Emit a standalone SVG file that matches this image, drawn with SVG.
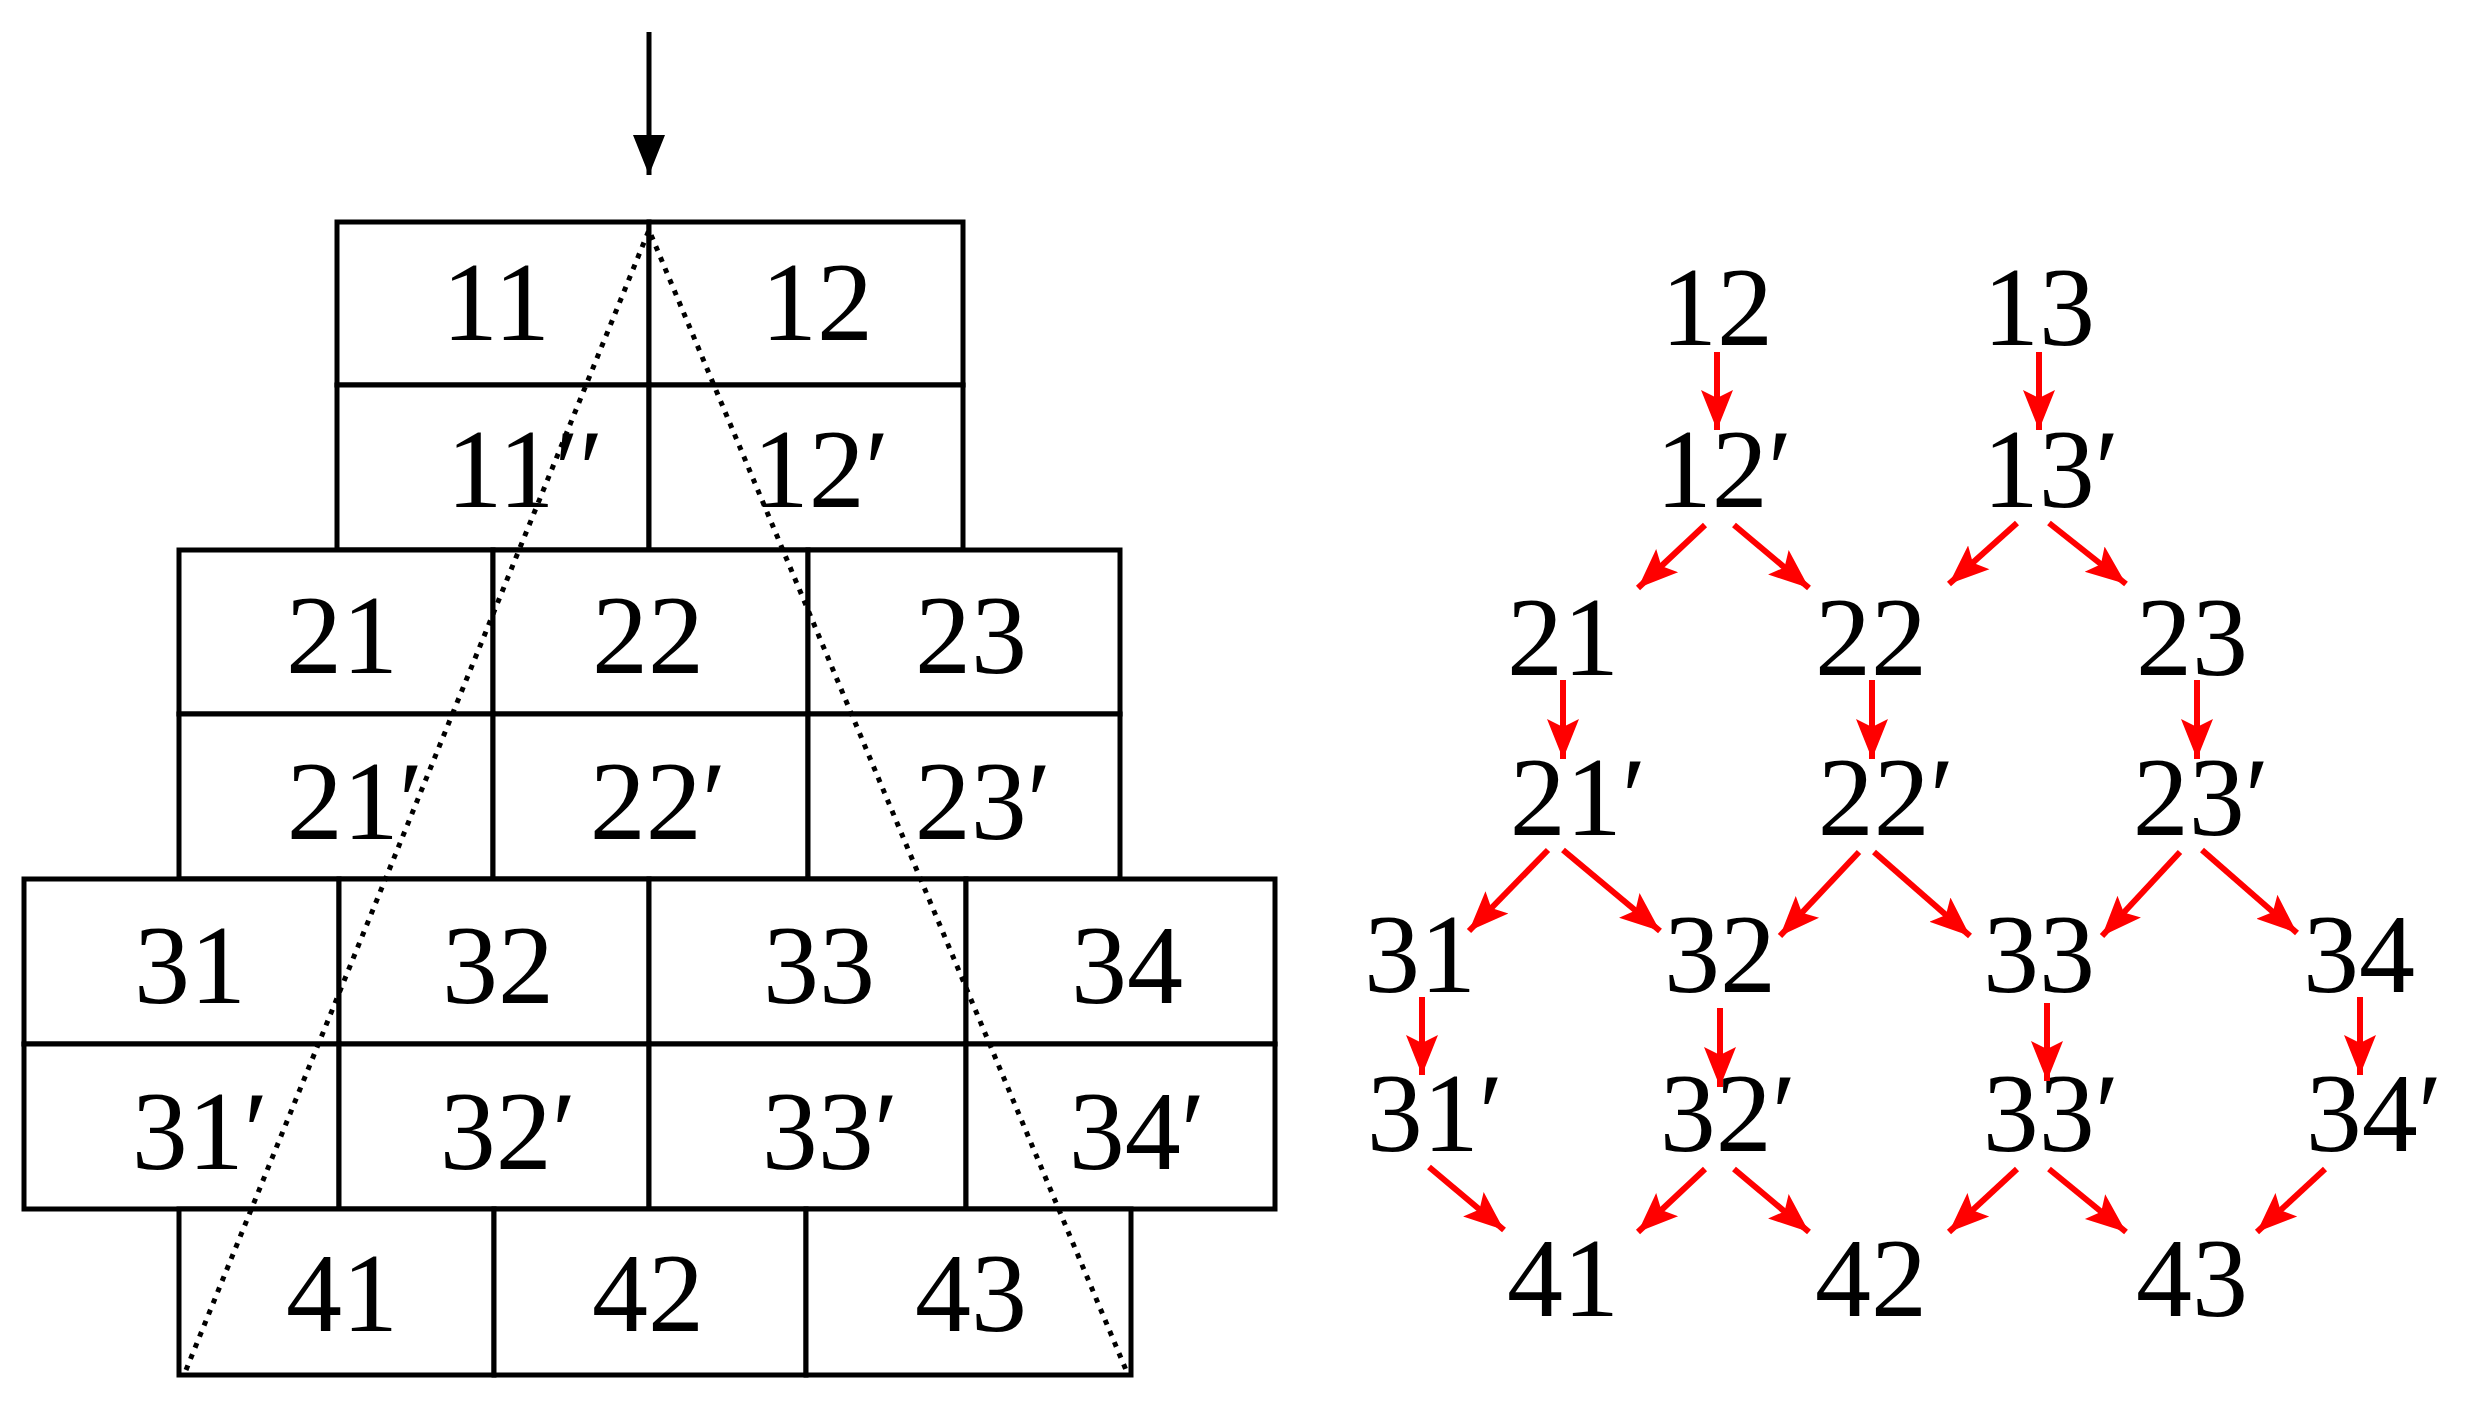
<svg xmlns="http://www.w3.org/2000/svg" width="2471" height="1409" viewBox="0 0 2471 1409">
<style>
.c{fill:#fff;stroke:#000;stroke-width:5}
.t{font-family:"Liberation Serif","DejaVu Serif",serif;font-size:112px;fill:#000;text-anchor:middle}
.r{stroke:#f00;stroke-width:6;fill:none;marker-end:url(#ra)}
</style>
<defs>
<marker id="ra" markerUnits="userSpaceOnUse" markerWidth="40" markerHeight="40" viewBox="0 0 40 40" refX="40" refY="20" orient="auto"><polygon points="0,4 40,20 0,36 8,20" fill="#f00"/></marker>
<marker id="ba" markerUnits="userSpaceOnUse" markerWidth="40" markerHeight="40" viewBox="0 0 40 40" refX="40" refY="20" orient="auto"><polygon points="0,4 40,20 0,36" fill="#000"/></marker>
</defs>
<g id="grid">
<rect class="c" x="337" y="222" width="312" height="163"/><rect class="c" x="649" y="222" width="314" height="163"/>
<rect class="c" x="337" y="385" width="312" height="165"/><rect class="c" x="649" y="385" width="314" height="165"/>
<rect class="c" x="179" y="550" width="314" height="164"/><rect class="c" x="493" y="550" width="315" height="164"/><rect class="c" x="808" y="550" width="312" height="164"/>
<rect class="c" x="179" y="714" width="314" height="165"/><rect class="c" x="493" y="714" width="315" height="165"/><rect class="c" x="808" y="714" width="312" height="165"/>
<rect class="c" x="24" y="879" width="315" height="165"/><rect class="c" x="339" y="879" width="310" height="165"/><rect class="c" x="649" y="879" width="317" height="165"/><rect class="c" x="966" y="879" width="309" height="165"/>
<rect class="c" x="24" y="1044" width="315" height="165"/><rect class="c" x="339" y="1044" width="310" height="165"/><rect class="c" x="649" y="1044" width="317" height="165"/><rect class="c" x="966" y="1044" width="309" height="165"/>
<rect class="c" x="179" y="1209" width="315" height="166"/><rect class="c" x="494" y="1209" width="312" height="166"/><rect class="c" x="806" y="1209" width="325" height="166"/>
</g>
<g id="grid-labels">
<text class="t" x="496" y="340">11</text><text class="t" x="817" y="340">12</text>
<text class="t" x="525" y="507">11′′</text><text class="t" x="821" y="507">12′</text>
<text class="t" x="342" y="673">21</text><text class="t" x="648" y="673">22</text><text class="t" x="971" y="673">23</text>
<text class="t" x="355" y="839">21′</text><text class="t" x="658" y="839">22′</text><text class="t" x="983" y="839">23′</text>
<text class="t" x="190" y="1003">31</text><text class="t" x="498" y="1003">32</text><text class="t" x="819" y="1003">33</text><text class="t" x="1127" y="1003">34</text>
<text class="t" x="200" y="1169">31′</text><text class="t" x="508" y="1169">32′</text><text class="t" x="830" y="1169">33′</text><text class="t" x="1137" y="1169">34′</text>
<text class="t" x="342" y="1331">41</text><text class="t" x="648" y="1331">42</text><text class="t" x="971" y="1331">43</text>
</g>
<g id="left-lines">
<line x1="649" y1="32" x2="649" y2="175" stroke="#000" stroke-width="5" marker-end="url(#ba)"/>
<polyline points="186,1370 649,230 1126,1370" fill="none" stroke="#000" stroke-width="5" stroke-dasharray="5,7"/>
</g>
<g id="nodes">
<text class="t" x="1717" y="345">12</text><text class="t" x="2039" y="345">13</text>
<text class="t" x="1724" y="507">12′</text><text class="t" x="2051" y="507">13′</text>
<text class="t" x="1563" y="675">21</text><text class="t" x="1871" y="675">22</text><text class="t" x="2192" y="675">23</text>
<text class="t" x="1578" y="835">21′</text><text class="t" x="1886" y="835">22′</text><text class="t" x="2201" y="835">23′</text>
<text class="t" x="1420" y="992">31</text><text class="t" x="1720" y="992">32</text><text class="t" x="2039" y="992">33</text><text class="t" x="2359" y="992">34</text>
<text class="t" x="1435" y="1151">31′</text><text class="t" x="1728" y="1151">32′</text><text class="t" x="2051" y="1151">33′</text><text class="t" x="2374" y="1151">34′</text>
<text class="t" x="1563" y="1316">41</text><text class="t" x="1871" y="1316">42</text><text class="t" x="2192" y="1316">43</text>
</g>
<g id="connectors">
<line class="r" x1="1717" y1="352" x2="1717" y2="430"/>
<line class="r" x1="2039" y1="352" x2="2039" y2="430"/>
<line class="r" x1="1705" y1="525" x2="1638" y2="588"/>
<line class="r" x1="1734" y1="525" x2="1809" y2="588"/>
<line class="r" x1="2017" y1="523" x2="1949" y2="584"/>
<line class="r" x1="2049" y1="523" x2="2126" y2="584"/>
<line class="r" x1="1563" y1="680" x2="1563" y2="759"/>
<line class="r" x1="1872" y1="680" x2="1872" y2="759"/>
<line class="r" x1="2197" y1="680" x2="2197" y2="759"/>
<line class="r" x1="1548" y1="850" x2="1469" y2="931"/>
<line class="r" x1="1563" y1="850" x2="1660" y2="931"/>
<line class="r" x1="1859" y1="852" x2="1780" y2="936"/>
<line class="r" x1="1874" y1="852" x2="1970" y2="936"/>
<line class="r" x1="2180" y1="852" x2="2102" y2="936"/>
<line class="r" x1="2202" y1="850" x2="2297" y2="933"/>
<line class="r" x1="1422" y1="997" x2="1422" y2="1075"/>
<line class="r" x1="1720" y1="1008" x2="1720" y2="1087"/>
<line class="r" x1="2047" y1="1003" x2="2047" y2="1081"/>
<line class="r" x1="2360" y1="997" x2="2360" y2="1075"/>
<line class="r" x1="1429" y1="1167" x2="1504" y2="1230"/>
<line class="r" x1="1705" y1="1169" x2="1638" y2="1232"/>
<line class="r" x1="1734" y1="1169" x2="1809" y2="1232"/>
<line class="r" x1="2017" y1="1169" x2="1949" y2="1232"/>
<line class="r" x1="2049" y1="1169" x2="2126" y2="1232"/>
<line class="r" x1="2325" y1="1169" x2="2257" y2="1232"/>
</g>
</svg>
